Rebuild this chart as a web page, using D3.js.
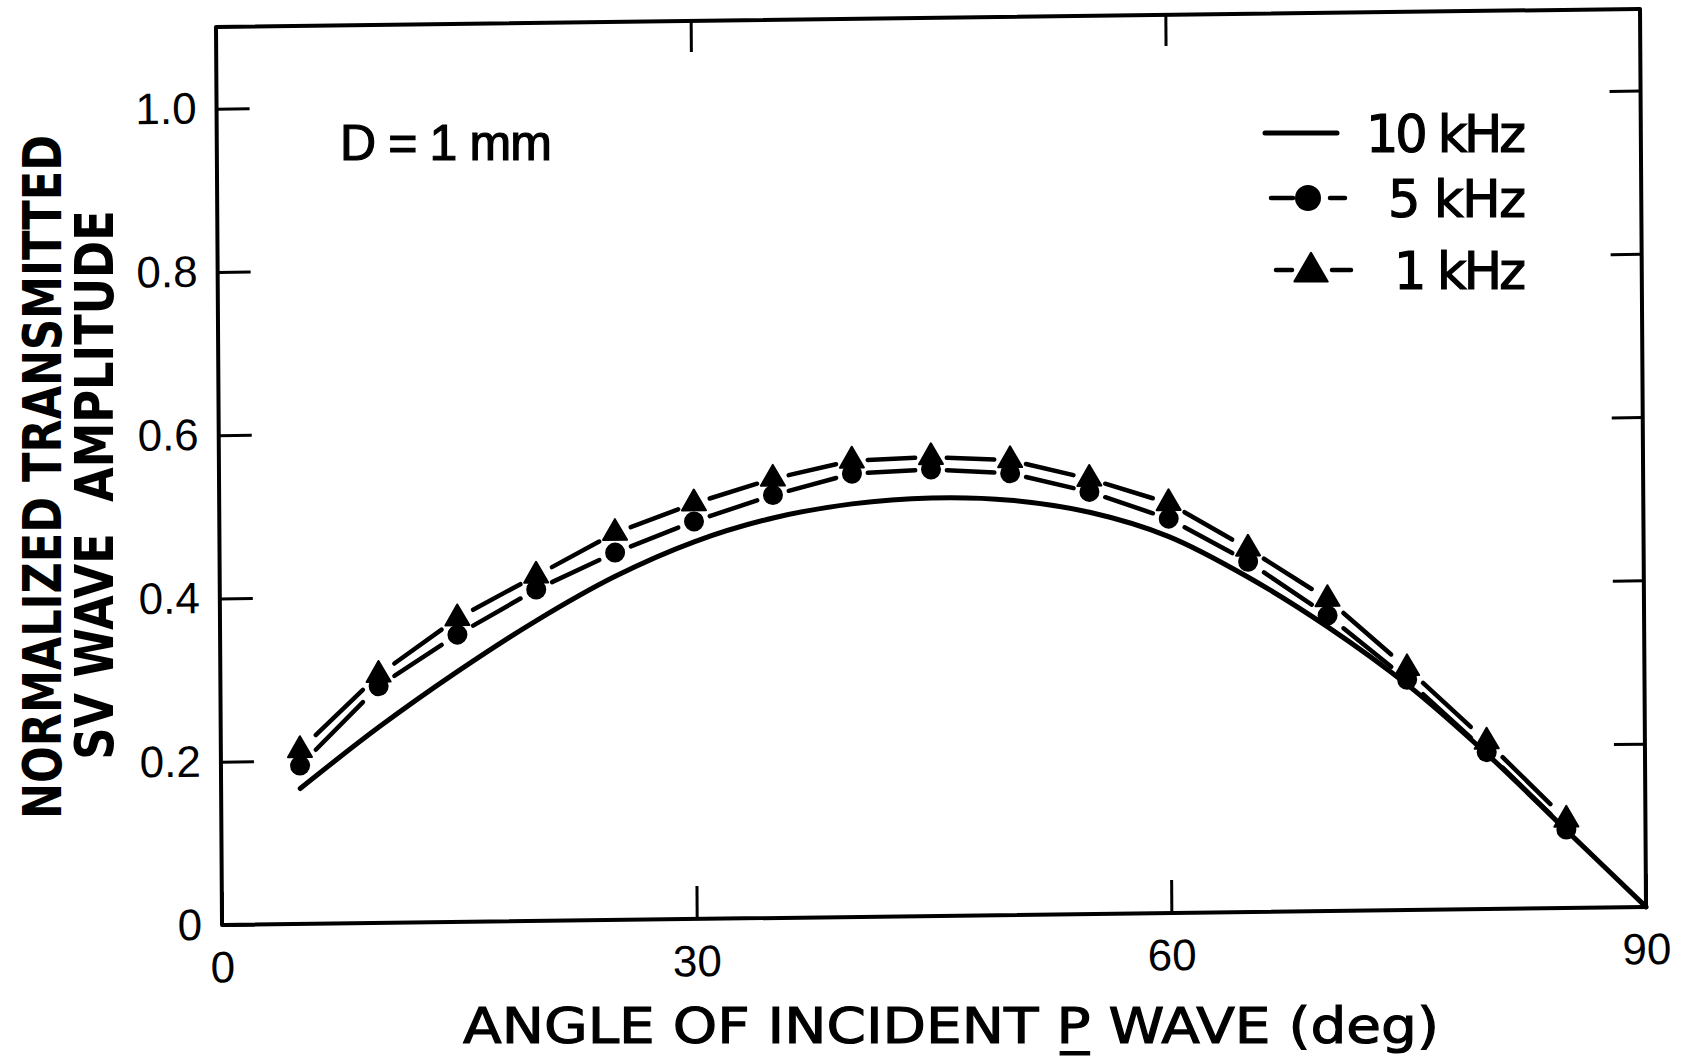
<!DOCTYPE html>
<html>
<head>
<meta charset="utf-8">
<script src="https://cdn.jsdelivr.net/npm/d3@7"></script>
<style>
  body { margin: 0; background: #fff; }
  svg { display: block; }
  text { fill: #000; }
</style>
</head>
<body>
<div id="chart"></div>
<script>
var svgWidth = 1690;
var svgHeight = 1062;

// plot box as drawn on the sheet (slightly skewed scan)
var plotLeft = 216, plotTop = 27;
var width = 1424;
var height = 898;

// marker angles (deg) for the 5 kHz and 1 kHz curves
var markerAngles = [5, 10, 15, 20, 25, 30, 35, 40, 45, 50, 55, 60, 65, 70, 75, 80, 85];
var amp1kHz = [0.213, 0.304, 0.372, 0.423, 0.474, 0.509, 0.538, 0.559, 0.562, 0.557, 0.533, 0.502, 0.445, 0.382, 0.296, 0.205, 0.108];
var amp5kHz = [0.194, 0.290, 0.352, 0.406, 0.450, 0.487, 0.518, 0.543, 0.547, 0.541, 0.517, 0.483, 0.429, 0.362, 0.282, 0.192, 0.096];

// solid 10 kHz curve
var angles10kHz = [5, 10, 15, 20, 25, 30, 35, 40, 45, 50, 55, 60, 65, 70, 75, 80, 85, 90];
var amp10kHz = [0.166, 0.240, 0.307, 0.368, 0.421, 0.462, 0.490, 0.506, 0.512, 0.508, 0.492, 0.461, 0.410, 0.348, 0.276, 0.190, 0.095, 0.0];

var xTicks = [0, 30, 60, 90];
var yTicks = [0, 0.2, 0.4, 0.6, 0.8, 1.0];
var legendNames = ["10 kHz", "5 kHz", "1 kHz"];

var svg = d3.select("#chart")
  .append("svg")
  .attr("width", svgWidth)
  .attr("height", svgHeight);

var chartGroup = svg.append("g")
  .attr("transform", `translate(${plotLeft}, ${plotTop}) matrix(1,-0.0127,0.0067,1,0,0)`);

var xScale = d3.scaleLinear().domain([0, 90]).range([0, width]);
var yScale = d3.scaleLinear().domain([0, 1.1]).range([height, 0]);

// frame
chartGroup.append("rect")
  .attr("x", 0).attr("y", 0)
  .attr("width", width).attr("height", height)
  .attr("fill", "none")
  .attr("stroke", "#000")
  .attr("stroke-width", 4)
  .attr("stroke-linejoin", "round");

// axes, ticks pointing inward
var leftAxis = d3.axisLeft(yScale)
  .tickValues(yTicks)
  .tickSize(-33)
  .tickPadding(20)
  .tickFormat(d => d === 0 ? "0" : d.toFixed(1));

var bottomAxis = d3.axisBottom(xScale)
  .tickValues(xTicks)
  .tickSize(-33)
  .tickPadding(26)
  .tickFormat(d => String(d));

var yAxis = chartGroup.append("g").call(leftAxis);
var xAxis = chartGroup.append("g")
  .attr("transform", `translate(0, ${height})`)
  .call(bottomAxis);

chartGroup.append("g")
  .attr("transform", `translate(${width}, 0)`)
  .call(d3.axisRight(yScale).tickValues(yTicks.slice(1)).tickSize(-31).tickFormat(""));
chartGroup.append("g")
  .call(d3.axisTop(xScale).tickValues([30, 60]).tickSize(-31).tickFormat(""));

chartGroup.selectAll(".domain").remove();
chartGroup.selectAll(".tick line")
  .attr("stroke", "#000")
  .attr("stroke-width", 3);
chartGroup.selectAll(".tick text")
  .style("font-family", "'Liberation Sans', Arial, sans-serif")
  .style("font-size", "44px")
  .attr("fill", "#000");

// 10 kHz solid curve
var pts10 = angles10kHz.map((a, i) => [a, amp10kHz[i]]);
var line = d3.line()
  .x(d => xScale(d[0]))
  .y(d => yScale(d[1]))
  .curve(d3.curveCatmullRom.alpha(0.5));

chartGroup.append("path")
  .datum(pts10)
  .attr("d", line)
  .attr("fill", "none")
  .attr("stroke", "#000")
  .attr("stroke-width", 5)
  .attr("stroke-linecap", "round");

// dashed curves: one dash between each pair of markers
function dashes(values) {
  var segs = [];
  for (var i = 0; i < markerAngles.length - 1; i++) {
    var x0 = xScale(markerAngles[i]), y0 = yScale(values[i]);
    var x1 = xScale(markerAngles[i + 1]), y1 = yScale(values[i + 1]);
    segs.push({
      x1: x0 + (x1 - x0) * 0.2, y1: y0 + (y1 - y0) * 0.2,
      x2: x0 + (x1 - x0) * 0.8, y2: y0 + (y1 - y0) * 0.8
    });
  }
  return segs;
}

[amp5kHz, amp1kHz].forEach(function(values) {
  chartGroup.append("g")
    .selectAll("line")
    .data(dashes(values))
    .enter()
    .append("line")
    .attr("x1", d => d.x1).attr("y1", d => d.y1)
    .attr("x2", d => d.x2).attr("y2", d => d.y2)
    .attr("stroke", "#000")
    .attr("stroke-width", 4.5)
    .attr("stroke-linecap", "round");
});

// markers
chartGroup.append("g")
  .selectAll("circle")
  .data(amp5kHz)
  .enter()
  .append("circle")
  .attr("cx", (d, i) => xScale(markerAngles[i]))
  .attr("cy", d => yScale(d))
  .attr("r", 10)
  .attr("fill", "#000");

var tri = d3.symbol().type(d3.symbolTriangle).size(250);
chartGroup.append("g")
  .selectAll("path")
  .data(amp1kHz)
  .enter()
  .append("path")
  .attr("d", tri)
  .attr("transform", (d, i) => `translate(${xScale(markerAngles[i])}, ${yScale(d)})`)
  .attr("fill", "#000")
  .attr("stroke", "#000")
  .attr("stroke-width", 2)
  .attr("stroke-linejoin", "round");

// axis titles
svg.append("text")
  .attr("x", 463)
  .attr("y", 1043)
  .attr("textLength", 976)
  .attr("lengthAdjust", "spacingAndGlyphs")
  .style("font-family", "'DejaVu Sans', sans-serif")
  .style("font-size", "50px")
  .attr("stroke", "#000")
  .attr("stroke-width", 1.1)
  .text("ANGLE OF INCIDENT P\u0332 WAVE (deg)");

// y title: two lines of condensed lettering, squeezed to the measured length
var yTitle = [
  { text: "NORMALIZED TRANSMITTED", x: 61, cy: 477, len: 684 },
  { text: "SV WAVE\u00A0\u00A0AMPLITUDE", x: 113, cy: 485, len: 550 }
];
yTitle.forEach(function(t) {
  var g = svg.append("g");
  var txt = g.append("text")
    .attr("text-anchor", "middle")
    .style("font-family", "'DejaVu Sans', sans-serif")
    .style("font-weight", "bold")
    .style("font-size", "53px")
    .text(t.text);
  var natural = txt.node().getComputedTextLength();
  g.attr("transform", `translate(${t.x}, ${t.cy}) rotate(-90) scale(${t.len / natural}, 1)`);
});

// annotation
svg.append("text")
  .attr("x", 340)
  .attr("y", 160)
  .attr("textLength", 212)
  .attr("lengthAdjust", "spacing")
  .style("font-family", "'Liberation Sans', Arial, sans-serif")
  .style("font-size", "50px")
  .attr("stroke", "#000")
  .attr("stroke-width", 1.2)
  .text("D = 1 mm");

// legend
var legendRows = [133, 198, 270];
var legendLen = [160, 138, 132];
var legend = svg.append("g");

legend.selectAll("text")
  .data(legendNames)
  .enter()
  .append("text")
  .attr("x", 1526)
  .attr("y", (d, i) => legendRows[i] + 19)
  .attr("text-anchor", "end")
  .attr("textLength", (d, i) => legendLen[i])
  .attr("lengthAdjust", "spacing")
  .style("font-family", "'DejaVu Sans', sans-serif")
  .style("font-size", "51px")
  .attr("stroke", "#000")
  .attr("stroke-width", 1.2)
  .text(d => d);

legend.append("line")
  .attr("x1", 1265).attr("x2", 1337)
  .attr("y1", legendRows[0]).attr("y2", legendRows[0])
  .attr("stroke", "#000").attr("stroke-width", 5).attr("stroke-linecap", "round");

[[1271, 1293], [1330, 1345]].forEach(function(s) {
  legend.append("line")
    .attr("x1", s[0]).attr("x2", s[1])
    .attr("y1", legendRows[1]).attr("y2", legendRows[1])
    .attr("stroke", "#000").attr("stroke-width", 4.5).attr("stroke-linecap", "round");
});
legend.append("circle")
  .attr("cx", 1308).attr("cy", legendRows[1]).attr("r", 13).attr("fill", "#000");

[[1276, 1292], [1332, 1351]].forEach(function(s) {
  legend.append("line")
    .attr("x1", s[0]).attr("x2", s[1])
    .attr("y1", legendRows[2]).attr("y2", legendRows[2])
    .attr("stroke", "#000").attr("stroke-width", 4.5).attr("stroke-linecap", "round");
});
legend.append("path")
  .attr("d", d3.symbol().type(d3.symbolTriangle).size(480))
  .attr("transform", `translate(1311, ${legendRows[2] + 2})`)
  .attr("fill", "#000")
  .attr("stroke", "#000")
  .attr("stroke-width", 2)
  .attr("stroke-linejoin", "round");
</script>
</body>
</html>
